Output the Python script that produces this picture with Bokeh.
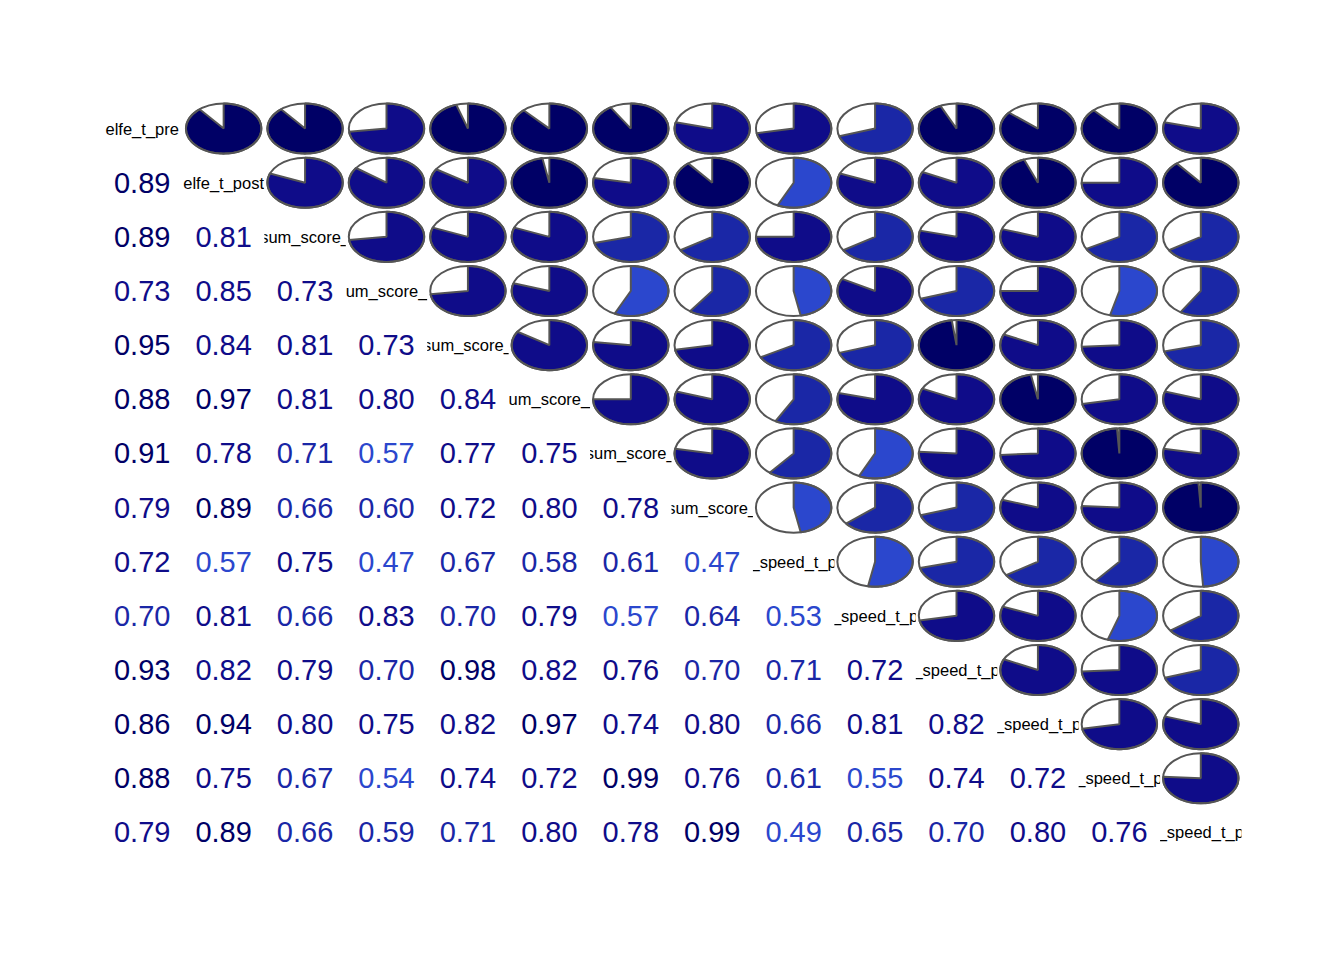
import numpy as np
from bokeh.plotting import figure
from bokeh.models import Range1d
from bokeh.embed import file_html
from bokeh.resources import INLINE
from bokeh.core.properties import value

# ---- data (lower triangle of the correlation matrix, row by row) ----
labels = ["elfe_t_pre", "elfe_t_post", "sum_score_", "um_score_", "sum_score_",
          "um_score_", "sum_score_", "sum_score_", "_speed_t_p", "_speed_t_p",
          "_speed_t_p", "_speed_t_p", "_speed_t_p", "_speed_t_p"]

row2 = [0.89]
row3 = [0.89, 0.81]
row4 = [0.73, 0.85, 0.73]
row5 = [0.95, 0.84, 0.81, 0.73]
row6 = [0.88, 0.97, 0.81, 0.80, 0.84]
row7 = [0.91, 0.78, 0.71, 0.57, 0.77, 0.75]
row8 = [0.79, 0.89, 0.66, 0.60, 0.72, 0.80, 0.78]
row9 = [0.72, 0.57, 0.75, 0.47, 0.67, 0.58, 0.61, 0.47]
row10 = [0.70, 0.81, 0.66, 0.83, 0.70, 0.79, 0.57, 0.64, 0.53]
row11 = [0.93, 0.82, 0.79, 0.70, 0.98, 0.82, 0.76, 0.70, 0.71, 0.72]
row12 = [0.86, 0.94, 0.80, 0.75, 0.82, 0.97, 0.74, 0.80, 0.66, 0.81, 0.82]
row13 = [0.88, 0.75, 0.67, 0.54, 0.74, 0.72, 0.99, 0.76, 0.61, 0.55, 0.74, 0.72]
row14 = [0.79, 0.89, 0.66, 0.59, 0.71, 0.80, 0.78, 0.99, 0.49, 0.65, 0.70, 0.80, 0.76]

lower_rows = [[], row2, row3, row4, row5, row6, row7, row8, row9, row10,
              row11, row12, row13, row14]
n = len(labels)

# ---- colour palette: 14 bins over [-1, 1] (red .. white .. navy) ----
palette = ["#ff0000", "#fb4e46", "#f8908a", "#fbc3bd", "#fde5e2", "#ffffff",
           "#ffffff", "#e2e8fa", "#a7baf1", "#6d8ce8",
           "#2b47cd", "#1a27a6", "#0f0c89", "#000066"]
breaks = np.linspace(-1, 1, len(palette) + 1)


def colour(r):
    k = int(np.searchsorted(breaks, r, side="left"))
    k = min(max(k, 1), len(palette))
    return palette[k - 1]


# ---- figure ----
p = figure(width=1328, height=939, x_range=Range1d(0.5, n + 0.5),
           y_range=Range1d(n + 0.5, 0.5), x_axis_type=None, y_axis_type=None,
           output_backend="svg", toolbar_location=None,
           min_border_left=101, min_border_right=87, min_border_top=101,
           min_border_bottom=80)
p.outline_line_color = None
p.background_fill_color = "white"
p.border_fill_color = "white"

# diagonal labels
p.text(x=list(range(1, n + 1)), y=list(range(1, n + 1)), text=labels,
       text_font=value("Liberation Sans"), text_font_size="16.5px",
       text_color="black", text_align="center", text_baseline="middle")

# white masks on off-diagonal cells so each label is clipped to its own cell
mx, my = [], []
for i in range(1, n + 1):
    for j in range(1, n + 1):
        if i != j:
            mx.append(j)
            my.append(i)
p.rect(x=mx, y=my, width=1.0, height=1.0, fill_color="white", line_color=None)

# lower triangle: numbers
nx, ny, nt, nc = [], [], [], []
for i, row in enumerate(lower_rows):
    for j, r in enumerate(row):
        nx.append(j + 1)
        ny.append(i + 1)
        nt.append("%.2f" % r)
        nc.append(colour(r))
p.text(x=nx, y=ny, text=nt, text_color=nc, text_font=value("Liberation Sans"),
       text_font_size="29px", text_align="center", text_baseline="middle")

# upper triangle: pies
rad = 0.463
ex, ey = [], []
px, py, pc = [], [], []
for i, row in enumerate(lower_rows):
    for j, r in enumerate(row):
        cx, cy = i + 1, j + 1   # mirrored cell: column i+1, row j+1
        ex.append(cx)
        ey.append(cy)
        ang = np.linspace(np.pi / 2, np.pi / 2 - 2 * np.pi * r, 120)
        xs = list(cx + rad * np.cos(ang)) + [cx]
        ys = list(cy - rad * np.sin(ang)) + [cy]
        px.append(xs)
        py.append(ys)
        pc.append(colour(r))

p.ellipse(x=ex, y=ey, width=2 * rad, height=2 * rad, fill_color="white",
          line_color=None)
p.patches(xs=px, ys=py, fill_color=pc, line_color="#555555", line_width=2)
p.ellipse(x=ex, y=ey, width=2 * rad, height=2 * rad, fill_color=None,
          line_color="#555555", line_width=2)

open("out.html", "w").write(file_html(p, INLINE))
